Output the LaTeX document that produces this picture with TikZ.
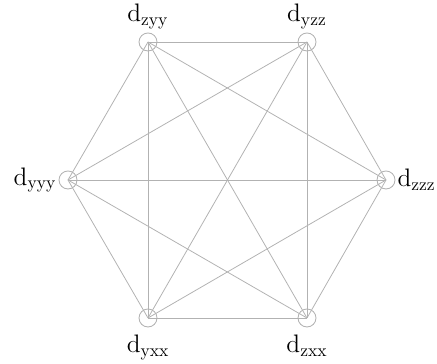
\documentclass[tikz,border=0pt]{standalone}
\usepackage{amsmath}
\usepackage{tikz}
\usetikzlibrary{positioning}
\tikzset{
  vert/.style={circle, draw=black!30, line width=0.5pt, minimum size=0.36cm,
               inner sep=0pt},
  edge/.style={draw=black!30, line width=0.45pt},
  vlabel/.style={font=\Large, inner sep=1pt},
}

\begin{document}
\begin{tikzpicture}
  \useasboundingbox (0,0) rectangle (8.74,7.28);

  % hexagon of vertices
  \node[vert, label={[vlabel, label distance=1pt]above:$\mathrm{d}_{\mathrm{zyy}}$}] (zyy) at (2.96,6.44) {};
  \node[vert, label={[vlabel, label distance=1pt]above:$\mathrm{d}_{\mathrm{yzz}}$}] (yzz) at (6.14,6.44) {};
  \node[vert, label={[vlabel, label distance=0pt]left:$\mathrm{d}_{\mathrm{yyy}}$}] (yyy) at (1.36,3.68) {};
  \node[vert, label={[vlabel, label distance=0pt]right:$\mathrm{d}_{\mathrm{zzz}}$}] (zzz) at (7.72,3.68) {};
  \node[vert, label={[vlabel, label distance=3pt]below:$\mathrm{d}_{\mathrm{yxx}}$}] (yxx) at (2.96,0.92) {};
  \node[vert, label={[vlabel, label distance=3pt]below:$\mathrm{d}_{\mathrm{zxx}}$}] (zxx) at (6.14,0.92) {};

  % every pair joined
  \draw[edge] (zyy.center) -- (yzz.center);
  \draw[edge] (zyy.center) -- (yyy.center);
  \draw[edge] (zyy.center) -- (zzz.center);
  \draw[edge] (zyy.center) -- (yxx.center);
  \draw[edge] (zyy.center) -- (zxx.center);
  \draw[edge] (yzz.center) -- (yyy.center);
  \draw[edge] (yzz.center) -- (zzz.center);
  \draw[edge] (yzz.center) -- (yxx.center);
  \draw[edge] (yzz.center) -- (zxx.center);
  \draw[edge] (yyy.center) -- (zzz.center);
  \draw[edge] (yyy.center) -- (yxx.center);
  \draw[edge] (yyy.center) -- (zxx.center);
  \draw[edge] (zzz.center) -- (yxx.center);
  \draw[edge] (zzz.center) -- (zxx.center);
  \draw[edge] (yxx.center) -- (zxx.center);
\end{tikzpicture}
\end{document}
